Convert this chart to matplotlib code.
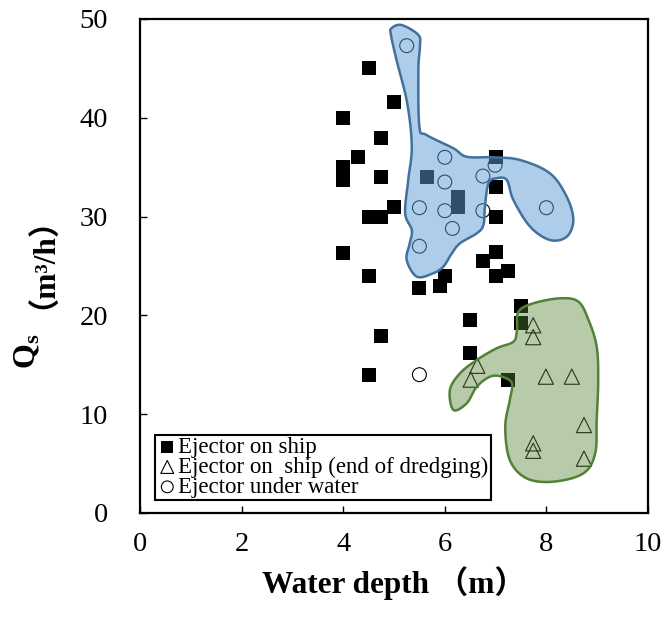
import matplotlib
matplotlib.use('Agg')
import matplotlib.pyplot as plt
import numpy as np
from matplotlib.patches import Polygon

plt.rcParams['font.family'] = ['Liberation Serif', 'Noto Sans CJK JP']
plt.rcParams['mathtext.fontset'] = 'custom'
plt.rcParams['mathtext.rm'] = 'Liberation Serif'
plt.rcParams['mathtext.bf'] = 'Liberation Serif:bold'

# ejector on ship
ship_depth = [4.0, 4.5, 5.0, 4.75, 4.3, 4.0, 4.0, 4.75, 5.65, 6.25, 6.25,
              7.0, 7.0, 7.0, 5.0, 4.5, 4.75, 4.0, 7.0, 6.75, 7.25, 4.5,
              6.0, 5.9, 5.5, 7.0, 7.5, 7.5, 6.5, 4.75, 6.5, 4.5, 7.25]
ship_qs = [40.0, 45.0, 41.6, 38.0, 36.0, 35.0, 33.7, 34.0, 34.0, 32.0, 31.0,
           36.0, 33.0, 30.0, 31.0, 30.0, 30.0, 26.3, 26.4, 25.5, 24.5, 24.0,
           24.0, 23.0, 22.8, 24.0, 21.0, 19.2, 19.5, 17.9, 16.2, 14.0, 13.5]

# ejector on ship, end of dredging
end_depth = [7.74, 7.74, 6.64, 6.51, 7.99, 8.5, 8.74, 7.74, 7.74, 8.74]
end_qs = [19.0, 17.8, 14.9, 13.5, 13.8, 13.8, 8.9, 7.05, 6.3, 5.5]

# ejector under water
under_depth = [5.25, 6.0, 6.0, 6.75, 6.99, 5.5, 6.0, 6.75, 8.0, 6.15, 5.5, 5.5]
under_qs = [47.3, 36.0, 33.5, 34.1, 35.2, 30.9, 30.6, 30.6, 30.9, 28.8, 27.0, 14.0]

# hand-drawn group outlines (depth, Qs)
blue_x = [4.95, 5.15, 5.48, 5.51, 5.48, 5.50, 5.64, 6.17, 6.43, 6.95, 7.48,
          8.07, 8.40, 8.53, 8.40, 8.07, 7.68, 7.35, 7.22, 7.02, 6.86, 6.79,
          6.76, 6.63, 6.30, 6.14, 5.97, 5.77, 5.45, 5.25, 5.31, 5.35, 5.22,
          5.28, 5.35, 5.26, 5.05, 4.94]
blue_y = [49.06, 49.39, 48.38, 47.2, 44.84, 39.1, 38.26, 36.91, 36.06, 36.0,
          35.73, 34.38, 32.01, 29.66, 27.97, 27.63, 28.98, 31.68, 33.70, 33.88,
          33.37, 31.0, 29.15, 28.31, 27.30, 26.29, 24.93, 24.26, 23.92, 25.61,
          27.30, 28.64, 30.33, 33.70, 37.08, 41.47, 45.85, 48.38]
green_x = [7.45, 7.74, 8.27, 8.63, 8.83, 8.99, 9.02, 8.99, 8.96, 8.73, 8.14,
           7.61, 7.28, 7.19, 7.28, 7.32, 7.12, 6.89, 6.63, 6.43, 6.17, 6.10,
           6.30, 6.63, 7.02, 7.35, 7.42]
green_y = [20.37, 21.22, 21.73, 21.39, 19.53, 16.83, 13.46, 9.41, 6.04, 4.02,
           3.17, 3.51, 5.36, 8.73, 11.44, 13.13, 13.80, 13.80, 12.78, 11.10,
           10.43, 12.45, 14.14, 15.49, 16.67, 17.34, 18.52]


def smooth_closed(xs, ys, n=20):
    # closed Catmull-Rom spline through the outline points
    pts = np.column_stack([xs, ys])
    N = len(pts)
    t = np.linspace(0, 1, n, endpoint=False)[:, None]
    out = []
    for i in range(N):
        p0, p1, p2, p3 = pts[i - 1], pts[i], pts[(i + 1) % N], pts[(i + 2) % N]
        seg = 0.5 * (2 * p1 + (-p0 + p2) * t
                     + (2 * p0 - 5 * p1 + 4 * p2 - p3) * t ** 2
                     + (-p0 + 3 * p1 - 3 * p2 + p3) * t ** 3)
        out.append(seg)
    return np.vstack(out)


fig = plt.figure(figsize=(6.64, 6.19), dpi=100)
ax = fig.add_axes([140 / 664, 106 / 619, 508 / 664, 494 / 619])

ax.scatter(ship_depth, ship_qs, marker='s', s=100, c='black', linewidths=0,
           label='Ejector on ship', zorder=2)
ax.scatter(end_depth, end_qs, marker='^', s=120, facecolors='none',
           edgecolors='black', linewidths=0.8,
           label='Ejector on  ship (end of dredging)', zorder=2)
ax.scatter(under_depth, under_qs, marker='o', s=100, facecolors='none',
           edgecolors='black', linewidths=0.8,
           label='Ejector under water', zorder=2)

blue = Polygon(smooth_closed(blue_x, blue_y), closed=True,
               facecolor=(0.36, 0.61, 0.84, 0.5), edgecolor='#41719C',
               linewidth=1.8, zorder=3)
green = Polygon(smooth_closed(green_x, green_y), closed=True,
                facecolor=(0.33, 0.51, 0.21, 0.42), edgecolor='#538135',
                linewidth=1.8, zorder=3)
ax.add_patch(blue)
ax.add_patch(green)

ax.set_xlim(0, 10)
ax.set_ylim(0, 50)
ax.set_xticks(np.arange(0, 11, 2))
ax.set_yticks(np.arange(0, 51, 10))
ax.tick_params(direction='in', length=5, width=1, labelsize=20.5)
ax.tick_params(axis='x', pad=14)
ax.tick_params(axis='y', pad=23)
for sp in ax.spines.values():
    sp.set_linewidth(1.6)

ax.set_xlabel('Water depth （m）', fontsize=22.5, fontweight='bold', labelpad=6)

# y label in two pieces: mathtext subscript plus the unit with full-width brackets
ax.text(-0.2205, 0.364, r'$\mathbf{Q_s}$', transform=ax.transAxes,
        rotation=90, fontsize=23, ha='center', va='top')
ax.text(-0.2205, 0.412, '（m³/h）', transform=ax.transAxes,
        rotation=90, fontsize=22.5, fontweight='bold', ha='center', va='bottom')

leg = ax.legend(loc='lower left', bbox_to_anchor=(0.03, 0.026), fontsize=16.5,
                frameon=True, fancybox=False, edgecolor='black', framealpha=1,
                borderpad=0.1, handletextpad=0.05, handlelength=0.85,
                labelspacing=-0.05, borderaxespad=0, markerscale=0.85)
leg.get_frame().set_linewidth(1.5)
leg.set_zorder(5)

fig.savefig('out.png', dpi=100)
